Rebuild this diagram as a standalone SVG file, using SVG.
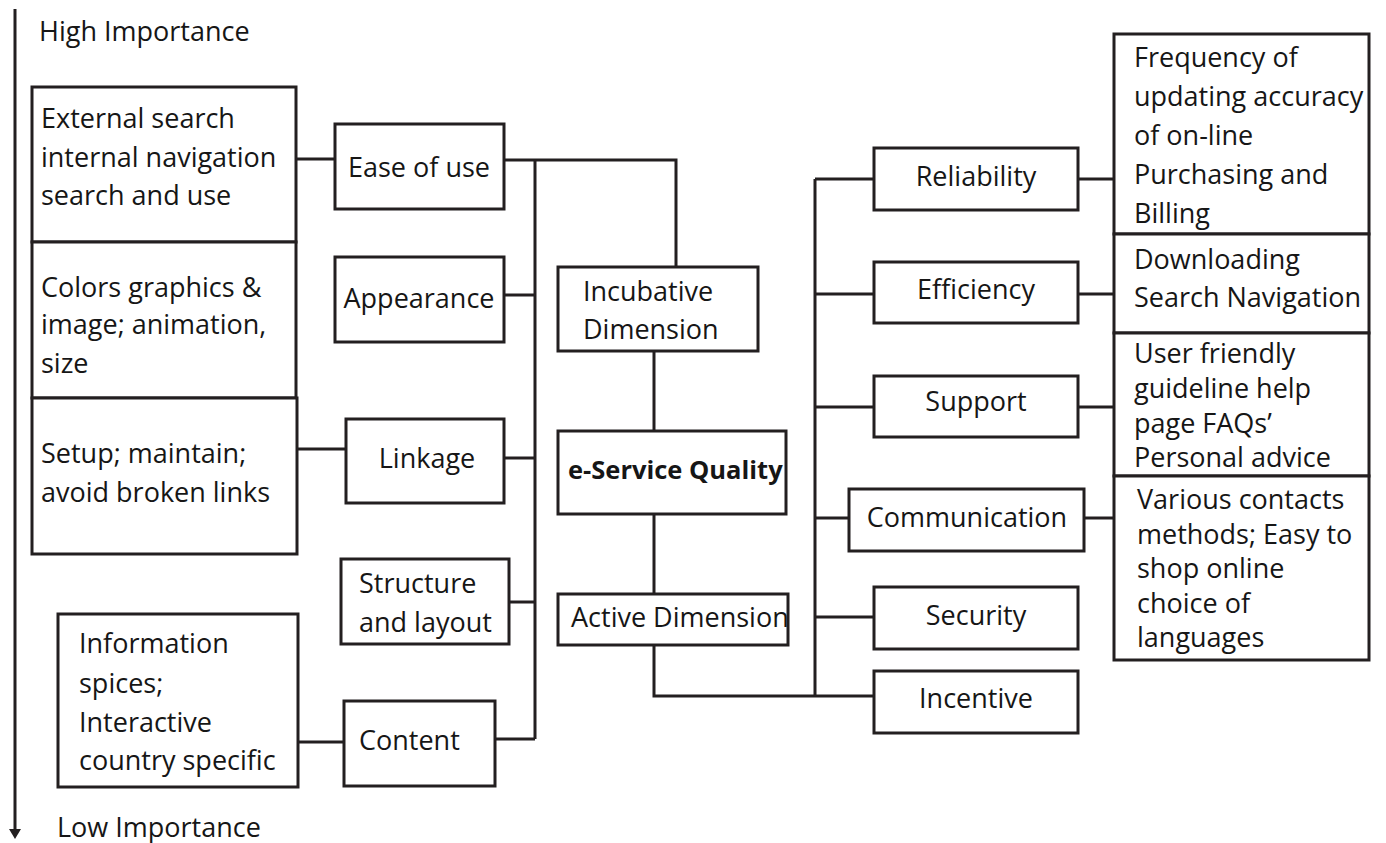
<svg xmlns="http://www.w3.org/2000/svg" width="1386" height="843" viewBox="0 0 1386 843">
<style>
rect.box{fill:#fff;stroke:#231f20;stroke-width:3}
.conn path{fill:none;stroke:#231f20;stroke-width:3}
text{font-family:"Open Sans","Noto Sans","Liberation Sans",sans-serif;font-size:27px;fill:#161616;font-weight:500}
text.c{text-anchor:middle}
text.b{font-weight:bold;font-size:25.5px}
</style>
<rect width="1386" height="843" fill="#fff"/>
<g id="axis">
<path d="M15,9 V832" stroke="#231f20" stroke-width="3" fill="none"/>
<polygon points="9,829 21,829 15,839" fill="#231f20"/>
<text x="39" y="41">High Importance</text>
<text x="57" y="837">Low Importance</text>
</g>
<g class="conn" id="connectors">
<path d="M296,159 H335"/>
<path d="M504,160 H676 V267"/>
<path d="M535,160 V739"/>
<path d="M504,295 H535"/>
<path d="M297,449 H346"/>
<path d="M504,458 H535"/>
<path d="M509,602 H535"/>
<path d="M298,742 H344"/>
<path d="M495,739 H535"/>
<path d="M654,351 V431"/>
<path d="M654,514 V594"/>
<path d="M654,645 V696 H874"/>
<path d="M815,179 V696"/>
<path d="M815,179 H874"/>
<path d="M815,294 H874"/>
<path d="M815,407 H874"/>
<path d="M815,518 H849"/>
<path d="M815,617 H874"/>
<path d="M1078,179 H1114"/>
<path d="M1078,294 H1114"/>
<path d="M1078,407 H1114"/>
<path d="M1084,518 H1114"/>
</g>
<g id="ext-search"><rect class="box" x="32" y="87" width="264" height="155"/>
<text x="41" y="128">External search</text><text x="41" y="167">internal navigation</text><text x="41" y="205">search and use</text></g>
<g id="colors"><rect class="box" x="32" y="242" width="264" height="156"/>
<text x="41" y="297">Colors graphics &amp;</text><text x="41" y="334">image; animation,</text><text x="41" y="373">size</text></g>
<g id="setup"><rect class="box" x="32" y="398" width="265" height="156"/>
<text x="41" y="463">Setup; maintain;</text><text x="41" y="502">avoid broken links</text></g>
<g id="information"><rect class="box" x="58" y="614" width="240" height="173"/>
<text x="79" y="653">Information</text><text x="79" y="693">spices;</text><text x="79" y="732">Interactive</text><text x="79" y="770">country specific</text></g>
<g id="ease"><rect class="box" x="335" y="124" width="169" height="85"/><text class="c" x="419" y="177">Ease of use</text></g>
<g id="appearance"><rect class="box" x="335" y="257" width="169" height="85"/><text class="c" x="419" y="308">Appearance</text></g>
<g id="linkage"><rect class="box" x="346" y="419" width="158" height="84"/><text class="c" x="427" y="468">Linkage</text></g>
<g id="structure"><rect class="box" x="341" y="559" width="168" height="85"/><text x="359" y="593">Structure</text><text x="359" y="632">and layout</text></g>
<g id="content"><rect class="box" x="344" y="701" width="151" height="85"/><text x="359" y="750">Content</text></g>
<g id="incubative"><rect class="box" x="558" y="267" width="200" height="84"/><text x="583" y="301">Incubative</text><text x="583" y="339">Dimension</text></g>
<g id="eservice"><rect class="box" x="558" y="431" width="228" height="83"/><text class="b" x="568" y="479">e-Service Quality</text></g>
<g id="active"><rect class="box" x="558" y="594" width="230" height="51"/><text x="571" y="627">Active Dimension</text></g>
<g id="reliability"><rect class="box" x="874" y="148" width="204" height="62"/><text class="c" x="976" y="186">Reliability</text></g>
<g id="efficiency"><rect class="box" x="874" y="262" width="204" height="61"/><text class="c" x="976" y="299">Efficiency</text></g>
<g id="support"><rect class="box" x="874" y="376" width="204" height="61"/><text class="c" x="976" y="411">Support</text></g>
<g id="communication"><rect class="box" x="849" y="489" width="235" height="62"/><text class="c" x="967" y="527">Communication</text></g>
<g id="security"><rect class="box" x="874" y="587" width="204" height="62"/><text class="c" x="976" y="625">Security</text></g>
<g id="incentive"><rect class="box" x="874" y="671" width="204" height="62"/><text class="c" x="976" y="708">Incentive</text></g>
<g id="freq"><rect class="box" x="1114" y="34" width="255" height="200"/>
<text x="1134" y="67">Frequency of</text><text x="1134" y="106">updating accuracy</text><text x="1134" y="145">of on-line</text><text x="1134" y="184">Purchasing and</text><text x="1134" y="223">Billing</text></g>
<g id="download"><rect class="box" x="1114" y="234" width="255" height="99"/>
<text x="1134" y="269">Downloading</text><text x="1134" y="307">Search Navigation</text></g>
<g id="userfriendly"><rect class="box" x="1114" y="333" width="255" height="143"/>
<text x="1134" y="363">User friendly</text><text x="1134" y="398">guideline help</text><text x="1134" y="433">page FAQs’</text><text x="1134" y="467">Personal advice</text></g>
<g id="various"><rect class="box" x="1114" y="476" width="255" height="184"/>
<text x="1137" y="509">Various contacts</text><text x="1137" y="543.5">methods; Easy to</text><text x="1137" y="578">shop online</text><text x="1137" y="612.5">choice of</text><text x="1137" y="647">languages</text></g>
</svg>
